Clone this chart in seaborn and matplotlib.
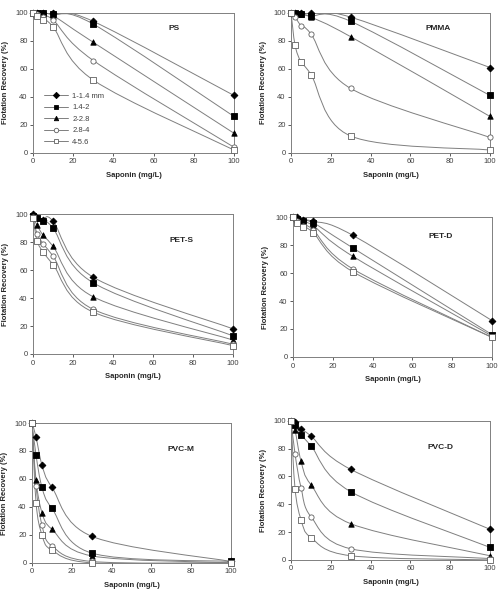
import numpy as np
import pandas as pd
import matplotlib
matplotlib.use("Agg")
import matplotlib.pyplot as plt
from matplotlib.path import Path
from matplotlib.patches import PathPatch
from matplotlib.lines import Line2D
import seaborn as sns

sns.set_style("ticks")
plt.rcParams['font.family'] = ['Liberation Sans', 'DejaVu Sans']

# saponin dose (mg/L)
dose = [0, 2, 5, 10, 30, 100]
sizes = ['1-1.4 mm', '1.4-2', '2-2.8', '2.8-4', '4-5.6']

# flotation recovery (%) for each size class, per plastic
ps = [[100, 100, 100, 100, 94, 41],
      [100, 100, 100, 99, 92, 26],
      [100, 100, 99, 98, 79, 14],
      [100, 99, 97, 95, 66, 4],
      [100, 98, 95, 90, 52, 2]]
pmma = [[100, 100, 100, 100, 97, 61],
        [100, 100, 99, 98, 94, 41],
        [100, 100, 99, 97, 83, 26],
        [100, 97, 91, 85, 46, 11],
        [100, 77, 65, 56, 12, 2]]
pet_s = [[100, 97, 96, 95, 55, 18],
         [99, 97, 95, 90, 51, 13],
         [98, 92, 85, 77, 41, 10],
         [98, 86, 79, 70, 32, 7],
         [97, 81, 73, 64, 30, 6]]
pet_d = [[100, 100, 98, 97, 87, 26],
         [100, 99, 97, 96, 78, 16],
         [100, 98, 96, 94, 72, 15],
         [100, 97, 94, 91, 63, 14],
         [100, 96, 93, 89, 61, 14]]
pvc_m = [[100, 90, 70, 54, 19, 1],
         [100, 77, 54, 39, 7, 1],
         [100, 59, 36, 24, 5, 0],
         [100, 55, 27, 12, 1, 0],
         [100, 43, 20, 9, 0, 0]]
pvc_d = [[100, 99, 94, 89, 65, 22],
         [100, 97, 90, 82, 49, 9],
         [100, 93, 71, 54, 26, 3],
         [100, 76, 52, 31, 8, 1],
         [100, 51, 29, 16, 3, 0]]

panels = [('PS', ps), ('PMMA', pmma), ('PET-S', pet_s),
          ('PET-D', pet_d), ('PVC-M', pvc_m), ('PVC-D', pvc_d)]

# axes boxes [left, bottom, width, height] in figure fraction
boxes = [[0.066, 0.741, 0.401, 0.237], [0.581, 0.741, 0.397, 0.237],
         [0.066, 0.400, 0.399, 0.237], [0.585, 0.395, 0.397, 0.237],
         [0.064, 0.046, 0.397, 0.237], [0.581, 0.051, 0.397, 0.236]]
title_pos = [(0.70, 0.89), (0.74, 0.886), (0.745, 0.81),
             (0.74, 0.86), (0.75, 0.81), (0.75, 0.81)]

line_col = '#7f7f7f'
txt_col = '#404040'
styles = [dict(marker='D', fc='black', ec='black', s=12),
          dict(marker='s', fc='black', ec='black', s=14),
          dict(marker='^', fc='black', ec='black', s=15),
          dict(marker='o', fc='white', ec='#606060', s=14),
          dict(marker='s', fc='white', ec='#606060', s=15)]


def smooth_path(xs, ys):
    # Excel-like smoothed line as cubic Bezier segments
    p = np.column_stack([xs, ys]).astype(float)
    n = len(p)
    verts = [p[0]]
    codes = [Path.MOVETO]
    for i in range(n - 1):
        p0 = p[i - 1] if i > 0 else p[i]
        p3 = p[i + 2] if i + 2 < n else p[i + 1]
        c1 = p[i] + (p[i + 1] - p0) / 6.0
        c2 = p[i + 1] - (p3 - p[i]) / 6.0
        verts += [c1, c2, p[i + 1]]
        codes += [Path.CURVE4] * 3
    return Path(verts, codes)


fig = plt.figure(figsize=(5.01, 5.90), dpi=100)

for k, (name, vals) in enumerate(panels):
    ax = fig.add_axes(boxes[k])
    for j, series in enumerate(vals):
        ax.add_patch(PathPatch(smooth_path(dose, series), fill=False,
                               edgecolor=line_col, lw=0.7, zorder=2))
        st = styles[j]
        sns.scatterplot(x=dose, y=series, ax=ax, marker=st['marker'],
                        color=st['fc'], edgecolor=st['ec'], linewidth=0.6,
                        s=st['s'], zorder=3, clip_on=False, legend=False)
    ax.set_xlim(0, 100)
    ax.set_ylim(0, 100)
    ax.set_xticks(range(0, 101, 20))
    ax.set_yticks(range(0, 101, 20))
    ax.tick_params(labelsize=5.5, length=2.5, width=0.6, colors=txt_col,
                   pad=1.5)
    for sp in ax.spines.values():
        sp.set_color('#808080')
        sp.set_linewidth(0.7)
    ax.set_xlabel('Saponin (mg/L)', fontsize=5.5, fontweight='bold',
                  labelpad=4.5)
    ax.set_ylabel('Flotation Recovery (%)', fontsize=5.5, fontweight='bold',
                  labelpad=4)
    ax.text(title_pos[k][0], title_pos[k][1], name, transform=ax.transAxes,
            ha='center', va='center', fontsize=6, fontweight='bold')
    if k == 0:
        handles = [Line2D([0], [0], color=line_col, lw=0.7,
                          marker=st['marker'], markerfacecolor=st['fc'],
                          markeredgecolor=st['ec'], markersize=3.2,
                          markeredgewidth=0.6) for st in styles]
        ax.legend(handles, sizes, loc='lower left', bbox_to_anchor=(0.02, 0.0),
                  frameon=False, fontsize=5.5, handlelength=3.2,
                  handletextpad=0.5, labelspacing=0.55, labelcolor=txt_col)

fig.savefig('out.png', dpi=100)
